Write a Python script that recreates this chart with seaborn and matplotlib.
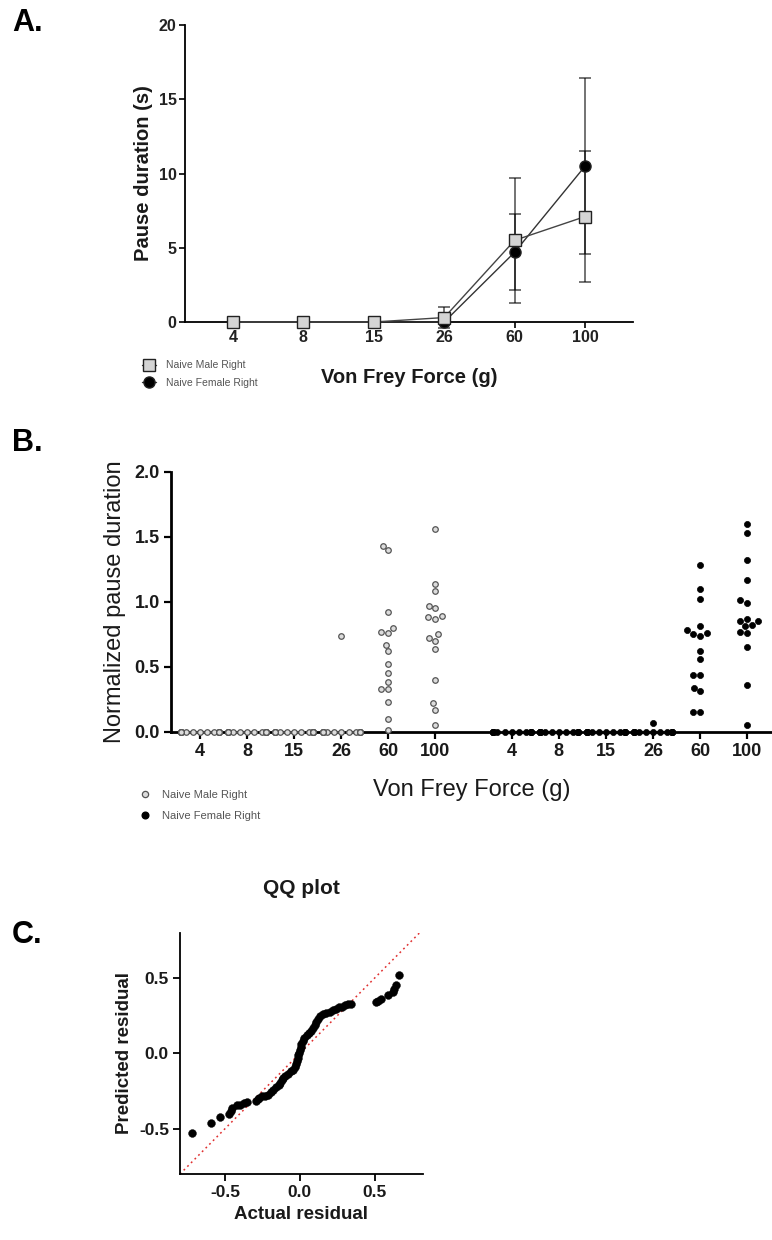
import warnings
warnings.filterwarnings("ignore")
import numpy as np
import pandas as pd
import matplotlib
matplotlib.use("Agg")
import matplotlib.pyplot as plt
from matplotlib.lines import Line2D
import seaborn as sns

sns.set_theme(style="white")
plt.rcParams["font.family"] = ["Liberation Sans", "DejaVu Sans"]

# ---------------- data ----------------
FORCES = ["4", "8", "15", "26", "60", "100"]
SEXES = ["Naive Male Right", "Naive Female Right"]

# Panel A: mean +/- SD pause duration (s)
A_MALE_MEAN = [0.0, 0.0, 0.0, 0.3, 5.5, 7.1]
A_MALE_SD = [0.0, 0.0, 0.0, 0.7, 4.2, 4.4]
A_FEMALE_MEAN = [0.0, 0.0, 0.0, 0.0, 4.7, 10.5]
A_FEMALE_SD = [0.0, 0.0, 0.0, 0.0, 2.55, 5.9]

# Panel B: normalized pause duration, individual animals
B_MALE_4 = [0.0, 0.0, 0.0, 0.0, 0.0, 0.0, 0.0, 0.0, 0.0, 0.0, 0.0, 0.0, 0.0, 0.0, 0.0, 0.0]
B_MALE_8 = [0.0, 0.0, 0.0, 0.0, 0.0, 0.0, 0.0, 0.0, 0.0, 0.0, 0.0, 0.0, 0.0, 0.0, 0.0, 0.0]
B_MALE_15 = [0.0, 0.0, 0.0, 0.0, 0.0, 0.0, 0.0, 0.0, 0.0, 0.0, 0.0, 0.0, 0.0, 0.0, 0.0, 0.0]
B_MALE_26 = [0.74, 0.0, 0.0, 0.0, 0.0, 0.0, 0.0, 0.0, 0.0, 0.0, 0.0, 0.0, 0.0, 0.0, 0.0, 0.0]
B_MALE_60 = [1.43, 1.40, 0.92, 0.80, 0.76, 0.77, 0.67, 0.62, 0.52, 0.45, 0.385, 0.325,
             0.33, 0.23, 0.10, 0.01]
B_MALE_100 = [1.56, 1.14, 1.08, 0.97, 0.87, 0.89, 0.95, 0.88, 0.75, 0.72, 0.64, 0.70,
              0.40, 0.17, 0.22, 0.05]
B_FEMALE_4 = [0.0, 0.0, 0.0, 0.0, 0.0, 0.0, 0.0, 0.0, 0.0, 0.0, 0.0, 0.0, 0.0, 0.0, 0.0, 0.0]
B_FEMALE_8 = [0.0, 0.0, 0.0, 0.0, 0.0, 0.0, 0.0, 0.0, 0.0, 0.0, 0.0, 0.0, 0.0, 0.0, 0.0, 0.0]
B_FEMALE_15 = [0.0, 0.0, 0.0, 0.0, 0.0, 0.0, 0.0, 0.0, 0.0, 0.0, 0.0, 0.0, 0.0, 0.0, 0.0, 0.0]
B_FEMALE_26 = [0.064, 0.0, 0.0, 0.0, 0.0, 0.0, 0.0, 0.0, 0.0, 0.0, 0.0, 0.0, 0.0, 0.0, 0.0, 0.0]
B_FEMALE_60 = [1.28, 1.10, 1.02, 0.81, 0.78, 0.75, 0.76, 0.74, 0.62, 0.56, 0.44, 0.44,
               0.34, 0.31, 0.15, 0.15]
B_FEMALE_100 = [1.60, 1.53, 1.32, 1.17, 0.99, 1.01, 0.87, 0.85, 0.85, 0.82, 0.81, 0.76,
                0.77, 0.65, 0.36, 0.05]

# Panel C: QQ plot of residuals
QQ_ACTUAL = [-0.72, -0.59, -0.53, -0.47, -0.46, -0.45, -0.42, -0.40, -0.37, -0.35,
             -0.29, -0.28, -0.27, -0.25, -0.23, -0.21, -0.19, -0.18, -0.16, -0.14,
             -0.13, -0.12, -0.11, -0.10, -0.08, -0.06, -0.045, -0.035, -0.025, -0.02,
             -0.015, -0.01, -0.005, 0.0, 0.005, 0.01, 0.02, 0.03, 0.045, 0.06,
             0.075, 0.09, 0.10, 0.11, 0.12, 0.135, 0.155, 0.175, 0.20, 0.22,
             0.24, 0.26, 0.28, 0.30, 0.32, 0.34, 0.51, 0.52, 0.54, 0.59,
             0.62, 0.63, 0.64, 0.66]
QQ_PREDICTED = [-0.53, -0.46, -0.425, -0.40, -0.38, -0.36, -0.345, -0.34, -0.33, -0.32,
                -0.315, -0.30, -0.295, -0.285, -0.28, -0.275, -0.255, -0.24, -0.225, -0.21,
                -0.195, -0.18, -0.165, -0.15, -0.135, -0.12, -0.11, -0.09, -0.07, -0.05,
                -0.03, -0.01, 0.005, 0.02, 0.04, 0.06, 0.08, 0.10, 0.12, 0.135,
                0.15, 0.17, 0.19, 0.21, 0.23, 0.245, 0.26, 0.27, 0.275, 0.285,
                0.295, 0.305, 0.31, 0.32, 0.325, 0.33, 0.34, 0.35, 0.36, 0.385,
                0.41, 0.425, 0.455, 0.52]

B_MALE = [B_MALE_4, B_MALE_8, B_MALE_15, B_MALE_26, B_MALE_60, B_MALE_100]
B_FEMALE = [B_FEMALE_4, B_FEMALE_8, B_FEMALE_15, B_FEMALE_26, B_FEMALE_60, B_FEMALE_100]

# ---------------- figure ----------------
W, H = 772, 1240
fig = plt.figure(figsize=(W / 100, H / 100), dpi=100)


def ax_px(left, top, right, bottom):
    return fig.add_axes([left / W, 1 - bottom / H, (right - left) / W, (bottom - top) / H])


TXT = "#1a1a1a"

# ======== Panel A ========
axA = ax_px(185, 25, 633, 322)
posA = np.arange(len(FORCES))
dfA = pd.DataFrame({
    "pos": np.concatenate([posA, posA]),
    "mean": A_FEMALE_MEAN + A_MALE_MEAN,
    "sd": A_FEMALE_SD + A_MALE_SD,
    "sex": [SEXES[1]] * len(FORCES) + [SEXES[0]] * len(FORCES),
})
styleA = {
    SEXES[1]: dict(marker="o", markersize=8.0, markerfacecolor="black", color="#333333", zorder=4),
    SEXES[0]: dict(marker="s", markersize=8.5, markerfacecolor="#d4d4d4", color="#444444", zorder=5),
}
for sex in [SEXES[1], SEXES[0]]:
    sub = dfA[dfA["sex"] == sex]
    axA.errorbar(sub["pos"], sub["mean"], yerr=sub["sd"], fmt="none", ecolor="black",
                 alpha=0.55, elinewidth=1.4, capsize=4, capthick=1.4, zorder=2, clip_on=False)
for sex in [SEXES[1], SEXES[0]]:
    sub = dfA[dfA["sex"] == sex]
    st = styleA[sex]
    sns.lineplot(data=sub, x="pos", y="mean", ax=axA, color=st["color"], lw=1.0,
                 marker=st["marker"], markersize=st["markersize"],
                 markerfacecolor=st["markerfacecolor"], markeredgecolor="#222222",
                 markeredgewidth=1.0, zorder=st["zorder"], clip_on=False, legend=False)

axA.set_xlim(-0.68, 5.68)
axA.set_ylim(0, 20)
axA.set_xticks(posA)
axA.set_xticklabels(FORCES)
axA.set_yticks([0, 5, 10, 15, 20])
axA.set_xlabel("Von Frey Force (g)", fontsize=14.5, fontweight="bold", color=TXT, labelpad=16)
axA.set_ylabel("Pause duration (s)", fontsize=14.5, fontweight="bold", color=TXT, labelpad=4)
for sp in ["top", "right"]:
    axA.spines[sp].set_visible(False)
for sp in ["left", "bottom"]:
    axA.spines[sp].set_color("black")
    axA.spines[sp].set_linewidth(1.3)
axA.tick_params(axis="both", which="major", direction="out", length=4, width=1.2,
                color="black", labelsize=11.5, labelcolor="#222222", pad=2,
                bottom=True, left=True)
for lab in axA.get_xticklabels() + axA.get_yticklabels():
    lab.set_fontweight("bold")
axA.grid(False)

hA = [
    Line2D([], [], color="#333333", lw=1.0, marker="s", markersize=8, markerfacecolor="#d4d4d4",
           markeredgecolor="#222222"),
    Line2D([], [], color="#333333", lw=1.0, marker="o", markersize=8, markerfacecolor="black",
           markeredgecolor="#222222"),
]
legA = fig.legend(hA, SEXES, loc="upper left", bbox_to_anchor=(137 / W, 1 - 355 / H),
                  frameon=False, fontsize=7.5, handlelength=1.3, handletextpad=1.0,
                  labelspacing=0.75, borderpad=0)
for t in legA.get_texts():
    t.set_color("#555555")

# ======== Panel B ========
axB = ax_px(171, 471.7, 772, 731.7)
FEMALE_OFFSET = 6.62
rows = []
for i, f in enumerate(FORCES):
    for v in B_MALE[i]:
        rows.append((SEXES[0], f, i, v))
    for v in B_FEMALE[i]:
        rows.append((SEXES[1], f, FEMALE_OFFSET + i, v))
dfB = pd.DataFrame(rows, columns=["sex", "force", "pos", "value"])

sns.swarmplot(data=dfB[dfB["sex"] == SEXES[0]], x="pos", y="value", native_scale=True,
              color="#dcdcdc", edgecolor="#555555", linewidth=0.9, size=4.0,
              ax=axB, zorder=3)
sns.swarmplot(data=dfB[dfB["sex"] == SEXES[1]], x="pos", y="value", native_scale=True,
              color="black", edgecolor="black", linewidth=0.5, size=4.4,
              ax=axB, zorder=3)
for c in axB.collections:
    c.set_clip_on(False)

posB = list(range(len(FORCES))) + [FEMALE_OFFSET + i for i in range(len(FORCES))]
axB.set_xlim(-0.62, 12.15)
axB.set_ylim(0, 2.0)
axB.set_xticks(posB)
axB.set_xticklabels(FORCES + FORCES)
axB.set_yticks([0.0, 0.5, 1.0, 1.5, 2.0])
axB.set_yticklabels(["0.0", "0.5", "1.0", "1.5", "2.0"])
axB.set_xlabel("Von Frey Force (g)", fontsize=17, color=TXT, labelpad=14)
axB.set_ylabel("Normalized pause duration", fontsize=17, color=TXT, labelpad=6)
for sp in ["top", "right"]:
    axB.spines[sp].set_visible(False)
for sp in ["left", "bottom"]:
    axB.spines[sp].set_color("black")
    axB.spines[sp].set_linewidth(2.0)
axB.spines["bottom"].set_zorder(1)
axB.tick_params(axis="both", which="major", direction="out", length=5, width=1.6,
                color="black", labelsize=13, labelcolor="#1a1a1a", pad=3,
                bottom=True, left=True)
for lab in axB.get_xticklabels() + axB.get_yticklabels():
    lab.set_fontweight("bold")
axB.grid(False)

hB = [
    Line2D([], [], ls="none", marker="o", markersize=4.5, markerfacecolor="#dcdcdc",
           markeredgecolor="#555555", markeredgewidth=0.9),
    Line2D([], [], ls="none", marker="o", markersize=4.8, markerfacecolor="black",
           markeredgecolor="black"),
]
legB = fig.legend(hB, SEXES, loc="upper left", bbox_to_anchor=(134 / W, 1 - 784 / H),
                  frameon=False, fontsize=8, handlelength=1.0, handletextpad=1.0,
                  labelspacing=1.0, borderpad=0)
for t in legB.get_texts():
    t.set_color("#555555")

# ======== Panel C ========
axC = ax_px(180, 932.7, 422.7, 1174)
sns.scatterplot(x=QQ_ACTUAL, y=QQ_PREDICTED, ax=axC, color="black", s=32,
                edgecolor="black", linewidth=0.3, zorder=3, clip_on=False)
axC.axline((0, 0), slope=1, color="#e03030", ls=(0, (1.2, 2.2)), lw=1.1, zorder=2)
axC.set_xlim(-0.8, 0.82)
axC.set_ylim(-0.8, 0.8)
axC.set_xticks([-0.5, 0.0, 0.5])
axC.set_yticks([-0.5, 0.0, 0.5])
axC.set_xticklabels(["-0.5", "0.0", "0.5"])
axC.set_yticklabels(["-0.5", "0.0", "0.5"])
axC.set_xlabel("Actual residual", fontsize=13.5, fontweight="bold", color=TXT, labelpad=4)
axC.set_ylabel("Predicted residual", fontsize=13.5, fontweight="bold", color=TXT, labelpad=4)
axC.set_title("QQ plot", fontsize=15, fontweight="bold", color=TXT, pad=28)
for sp in ["top", "right"]:
    axC.spines[sp].set_visible(False)
for sp in ["left", "bottom"]:
    axC.spines[sp].set_color("black")
    axC.spines[sp].set_linewidth(1.3)
axC.tick_params(axis="both", which="major", direction="out", length=5, width=1.3,
                color="black", labelsize=12.5, labelcolor="#1a1a1a", pad=3,
                bottom=True, left=True)
for lab in axC.get_xticklabels() + axC.get_yticklabels():
    lab.set_fontweight("bold")
axC.grid(False)

# Panel letters
fig.text(12 / W, 1 - 8 / H, "A.", fontsize=22, fontweight="bold", color="black", va="top")
fig.text(12 / W, 1 - 428 / H, "B.", fontsize=22, fontweight="bold", color="black", va="top")
fig.text(12 / W, 1 - 920 / H, "C.", fontsize=22, fontweight="bold", color="black", va="top")

fig.savefig("out.png", dpi=100, facecolor="white")
